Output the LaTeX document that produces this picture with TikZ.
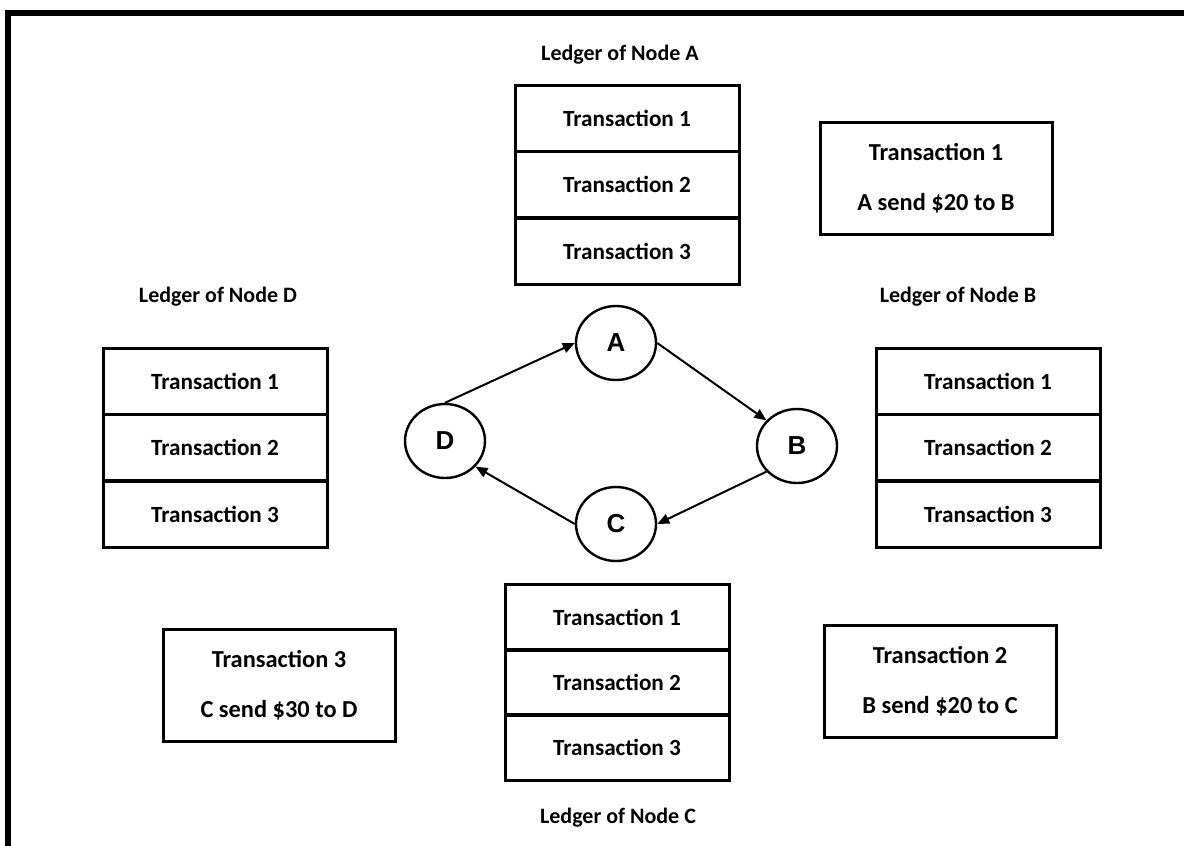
\documentclass[tikz,border=0pt]{standalone}
\usepackage{fontspec}
\setmainfont{Carlito}
\newfontfamily\arialfont{Liberation Sans}
\usetikzlibrary{arrows.meta,shapes.geometric}

\begin{document}
\begin{tikzpicture}[x=0.5pt, y=-0.5pt, every node/.style={font=\fontsize{11}{13}\selectfont\bfseries},
  row/.style={draw, line width=1.5pt, minimum width=112pt, minimum height=33pt, inner sep=0pt, font=\fontsize{11.6}{13}\selectfont\bfseries},
  txbox/.style={draw, line width=1.5pt, minimum width=116pt, minimum height=56pt, align=center, font=\fontsize{12.2}{13}\selectfont\bfseries},
  peer/.style={draw, ellipse, line width=1.2pt, minimum width=40pt, minimum height=37pt, inner sep=0pt, font=\arialfont\fontsize{13}{14}\selectfont\bfseries},
  flow/.style={-{Triangle[length=6pt,width=5pt]}, line width=1pt}]
  \useasboundingbox (0,0) rectangle (1184,846);
  \draw[line width=3pt] (8,846) -- (8,13) -- (1184,13);

  % ledger of node A
  \node (titleA) at (620,55) {Ledger of Node A};
  \node[row] (a1) at (627,118) {Transaction 1};
  \node[row] (a2) at (627,184) {Transaction 2};
  \node[row] (a3) at (627,251) {Transaction 3};

  % ledger of node D
  \node (titleD) at (218,297) {Ledger of Node D};
  \node[row] (d1) at (215,381) {Transaction 1};
  \node[row] (d2) at (215,447) {Transaction 2};
  \node[row] (d3) at (215,514) {Transaction 3};

  % ledger of node B
  \node (titleB) at (958,297) {Ledger of Node B};
  \node[row] (b1) at (988,381) {Transaction 1};
  \node[row] (b2) at (988,447) {Transaction 2};
  \node[row] (b3) at (988,514) {Transaction 3};

  % ledger of node C
  \node[row] (c1) at (617,617) {Transaction 1};
  \node[row] (c2) at (617,682) {Transaction 2};
  \node[row] (c3) at (617,747) {Transaction 3};
  \node (titleC) at (618,818) {Ledger of Node C};

  % transactions
  \node[txbox] (tx1) at (936,178) {Transaction 1\\[12pt]A send \$20 to B};
  \node[txbox] (tx2) at (940,681) {Transaction 2\\[12pt]B send \$20 to C};
  \node[txbox] (tx3) at (279,685) {Transaction 3\\[12pt]C send \$30 to D};

  % peers
  \node[peer] (A) at (616,343) {A};
  \node[peer] (B) at (797,446) {B};
  \node[peer] (C) at (616,524) {C};
  \node[peer] (D) at (445,441) {D};
  \draw[flow] (D.north) -- (A.west);
  \draw[flow] (A.east) -- (B.140);
  \draw[flow] (B.220) -- (C.east);
  \draw[flow] (C.west) -- (D.-40);
\end{tikzpicture}
\end{document}
